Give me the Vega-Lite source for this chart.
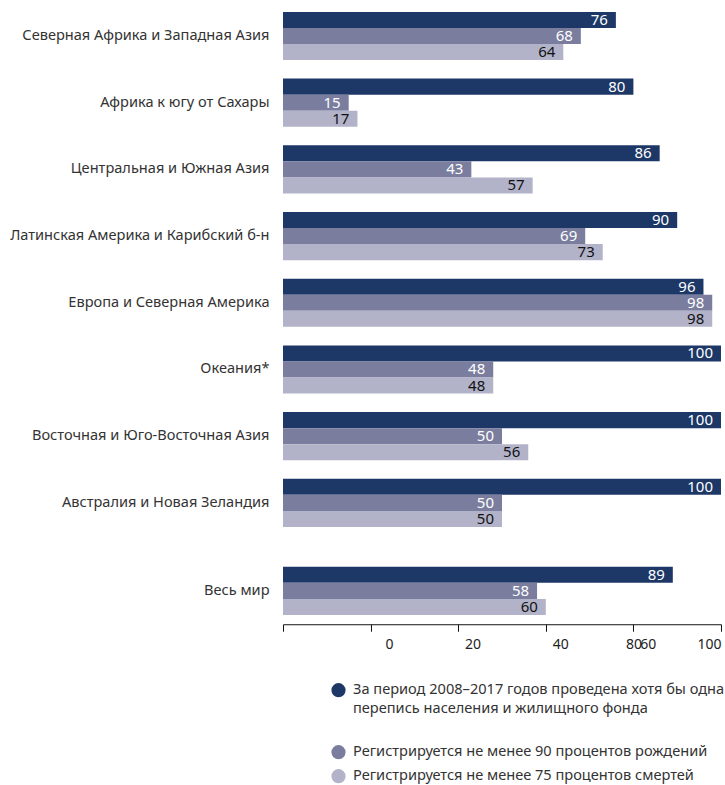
{
  "$schema": "https://vega.github.io/schema/vega-lite/v6.json",
  "background": "white",
  "padding": {"top": 2.65, "left": 5, "right": 4, "bottom": 0},
  "autosize": {"type": "pad"},
  "config": {
    "view": {"stroke": null},
    "font": "Noto Sans",
    "axis": {"grid": false, "title": null}
  },
  "datasets": {
    "d": [
      {"region": "Северная Африка и Западная Азия", "group": "main", "series": "За период 2008–2017 годов проведена хотя бы одна перепись населения и жилищного фонда", "value": 76},
      {"region": "Северная Африка и Западная Азия", "group": "main", "series": "Регистрируется не менее 90 процентов рождений", "value": 68},
      {"region": "Северная Африка и Западная Азия", "group": "main", "series": "Регистрируется не менее 75 процентов смертей", "value": 64},
      {"region": "Африка к югу от Сахары", "group": "main", "series": "За период 2008–2017 годов проведена хотя бы одна перепись населения и жилищного фонда", "value": 80},
      {"region": "Африка к югу от Сахары", "group": "main", "series": "Регистрируется не менее 90 процентов рождений", "value": 15},
      {"region": "Африка к югу от Сахары", "group": "main", "series": "Регистрируется не менее 75 процентов смертей", "value": 17},
      {"region": "Центральная и Южная Азия", "group": "main", "series": "За период 2008–2017 годов проведена хотя бы одна перепись населения и жилищного фонда", "value": 86},
      {"region": "Центральная и Южная Азия", "group": "main", "series": "Регистрируется не менее 90 процентов рождений", "value": 43},
      {"region": "Центральная и Южная Азия", "group": "main", "series": "Регистрируется не менее 75 процентов смертей", "value": 57},
      {"region": "Латинская Америка и Карибский б-н", "group": "main", "series": "За период 2008–2017 годов проведена хотя бы одна перепись населения и жилищного фонда", "value": 90},
      {"region": "Латинская Америка и Карибский б-н", "group": "main", "series": "Регистрируется не менее 90 процентов рождений", "value": 69},
      {"region": "Латинская Америка и Карибский б-н", "group": "main", "series": "Регистрируется не менее 75 процентов смертей", "value": 73},
      {"region": "Европа и Северная Америка", "group": "main", "series": "За период 2008–2017 годов проведена хотя бы одна перепись населения и жилищного фонда", "value": 96},
      {"region": "Европа и Северная Америка", "group": "main", "series": "Регистрируется не менее 90 процентов рождений", "value": 98},
      {"region": "Европа и Северная Америка", "group": "main", "series": "Регистрируется не менее 75 процентов смертей", "value": 98},
      {"region": "Океания*", "group": "main", "series": "За период 2008–2017 годов проведена хотя бы одна перепись населения и жилищного фонда", "value": 100},
      {"region": "Океания*", "group": "main", "series": "Регистрируется не менее 90 процентов рождений", "value": 48},
      {"region": "Океания*", "group": "main", "series": "Регистрируется не менее 75 процентов смертей", "value": 48},
      {"region": "Восточная и Юго-Восточная Азия", "group": "main", "series": "За период 2008–2017 годов проведена хотя бы одна перепись населения и жилищного фонда", "value": 100},
      {"region": "Восточная и Юго-Восточная Азия", "group": "main", "series": "Регистрируется не менее 90 процентов рождений", "value": 50},
      {"region": "Восточная и Юго-Восточная Азия", "group": "main", "series": "Регистрируется не менее 75 процентов смертей", "value": 56},
      {"region": "Австралия и Новая Зеландия", "group": "main", "series": "За период 2008–2017 годов проведена хотя бы одна перепись населения и жилищного фонда", "value": 100},
      {"region": "Австралия и Новая Зеландия", "group": "main", "series": "Регистрируется не менее 90 процентов рождений", "value": 50},
      {"region": "Австралия и Новая Зеландия", "group": "main", "series": "Регистрируется не менее 75 процентов смертей", "value": 50},
      {"region": "Весь мир", "group": "world", "series": "За период 2008–2017 годов проведена хотя бы одна перепись населения и жилищного фонда", "value": 89},
      {"region": "Весь мир", "group": "world", "series": "Регистрируется не менее 90 процентов рождений", "value": 58},
      {"region": "Весь мир", "group": "world", "series": "Регистрируется не менее 75 процентов смертей", "value": 60}
    ]
  },
  "data": {"name": "d"},
  "spacing": 20.9,
  "vconcat": [
    {
      "width": 438,
      "height": 533.6,
      "transform": [{"filter": "datum.group == 'main'"}],
      "encoding": {
        "y": {"field": "region", "type": "nominal", "sort": null,
          "scale": {"paddingInner": 0.278, "paddingOuter": 0.139},
          "axis": {"ticks": false, "domain": false, "labelFontSize": 14.6, "labelColor": "#333", "labelPadding": 14, "labelLimit": 300, "minExtent": 278, "maxExtent": 278}},
        "yOffset": {"field": "series", "type": "nominal", "sort": null, "scale": {"paddingInner": 0, "paddingOuter": 0}},
        "x": {"field": "value", "type": "quantitative", "scale": {"domain": [0, 100], "nice": false}, "axis": null}
      },
      "layer": [
        {
          "mark": {"type": "bar"},
          "encoding": {
            "color": {"field": "series", "type": "nominal", "sort": null,
              "scale": {"range": ["#1d3767", "#7a7d9e", "#b2b3c9"]},
              "legend": {
                "orient": "none", "legendX": 48, "legendY": 680, "title": null,
                "symbolType": "circle", "symbolSize": 200, "symbolStrokeWidth": 0,
                "labelFontSize": 14.6, "labelColor": "#333", "labelLimit": 500, "labelOffset": 7,
                "rowPadding": 8,
                "labelExpr": "indexof(datum.label, 'За период') == 0 ? ['За период 2008–2017 годов проведена хотя бы одна', 'перепись населения и жилищного фонда', ''] : datum.label",
                "encode": {"labels": {"update": {"lineHeight": {"value": 19}}}}
              }}
          }
        },
        {
          "mark": {"type": "text", "align": "right", "baseline": "middle", "dx": -8, "fontSize": 15},
          "encoding": {
            "text": {"field": "value", "type": "quantitative"},
            "color": {"condition": {"test": "indexof(datum.series, 'смертей') >= 0", "value": "#111"}, "value": "white"}
          }
        }
      ]
    },
    {
      "width": 438,
      "height": 66.7,
      "transform": [{"filter": "datum.group == 'world'"}],
      "encoding": {
        "y": {"field": "region", "type": "nominal", "sort": null,
          "scale": {"paddingInner": 0.278, "paddingOuter": 0.139},
          "axis": {"ticks": false, "domain": false, "labelFontSize": 14.6, "labelColor": "#333", "labelPadding": 14, "labelLimit": 300, "minExtent": 278, "maxExtent": 278}},
        "yOffset": {"field": "series", "type": "nominal", "sort": null, "scale": {"paddingInner": 0, "paddingOuter": 0}},
        "x": {"field": "value", "type": "quantitative", "scale": {"domain": [0, 100], "nice": false},
          "axis": {"values": [0, 20, 40, 60, 80, 100], "labelOverlap": false, "labelFlush": true, "domainColor": "#111", "tickColor": "#111", "tickSize": 7, "labelFontSize": 14, "labelColor": "#222", "labelPadding": 6,
            "labelOffset": {"condition": {"test": "datum.value <= 60", "value": 102}, "value": 0}}}
      },
      "layer": [
        {
          "mark": {"type": "bar"},
          "encoding": {
            "color": {"field": "series", "type": "nominal", "sort": null}
          }
        },
        {
          "mark": {"type": "text", "align": "right", "baseline": "middle", "dx": -8, "fontSize": 15},
          "encoding": {
            "text": {"field": "value", "type": "quantitative"},
            "color": {"condition": {"test": "indexof(datum.series, 'смертей') >= 0", "value": "#111"}, "value": "white"}
          }
        }
      ]
    }
  ]
}
